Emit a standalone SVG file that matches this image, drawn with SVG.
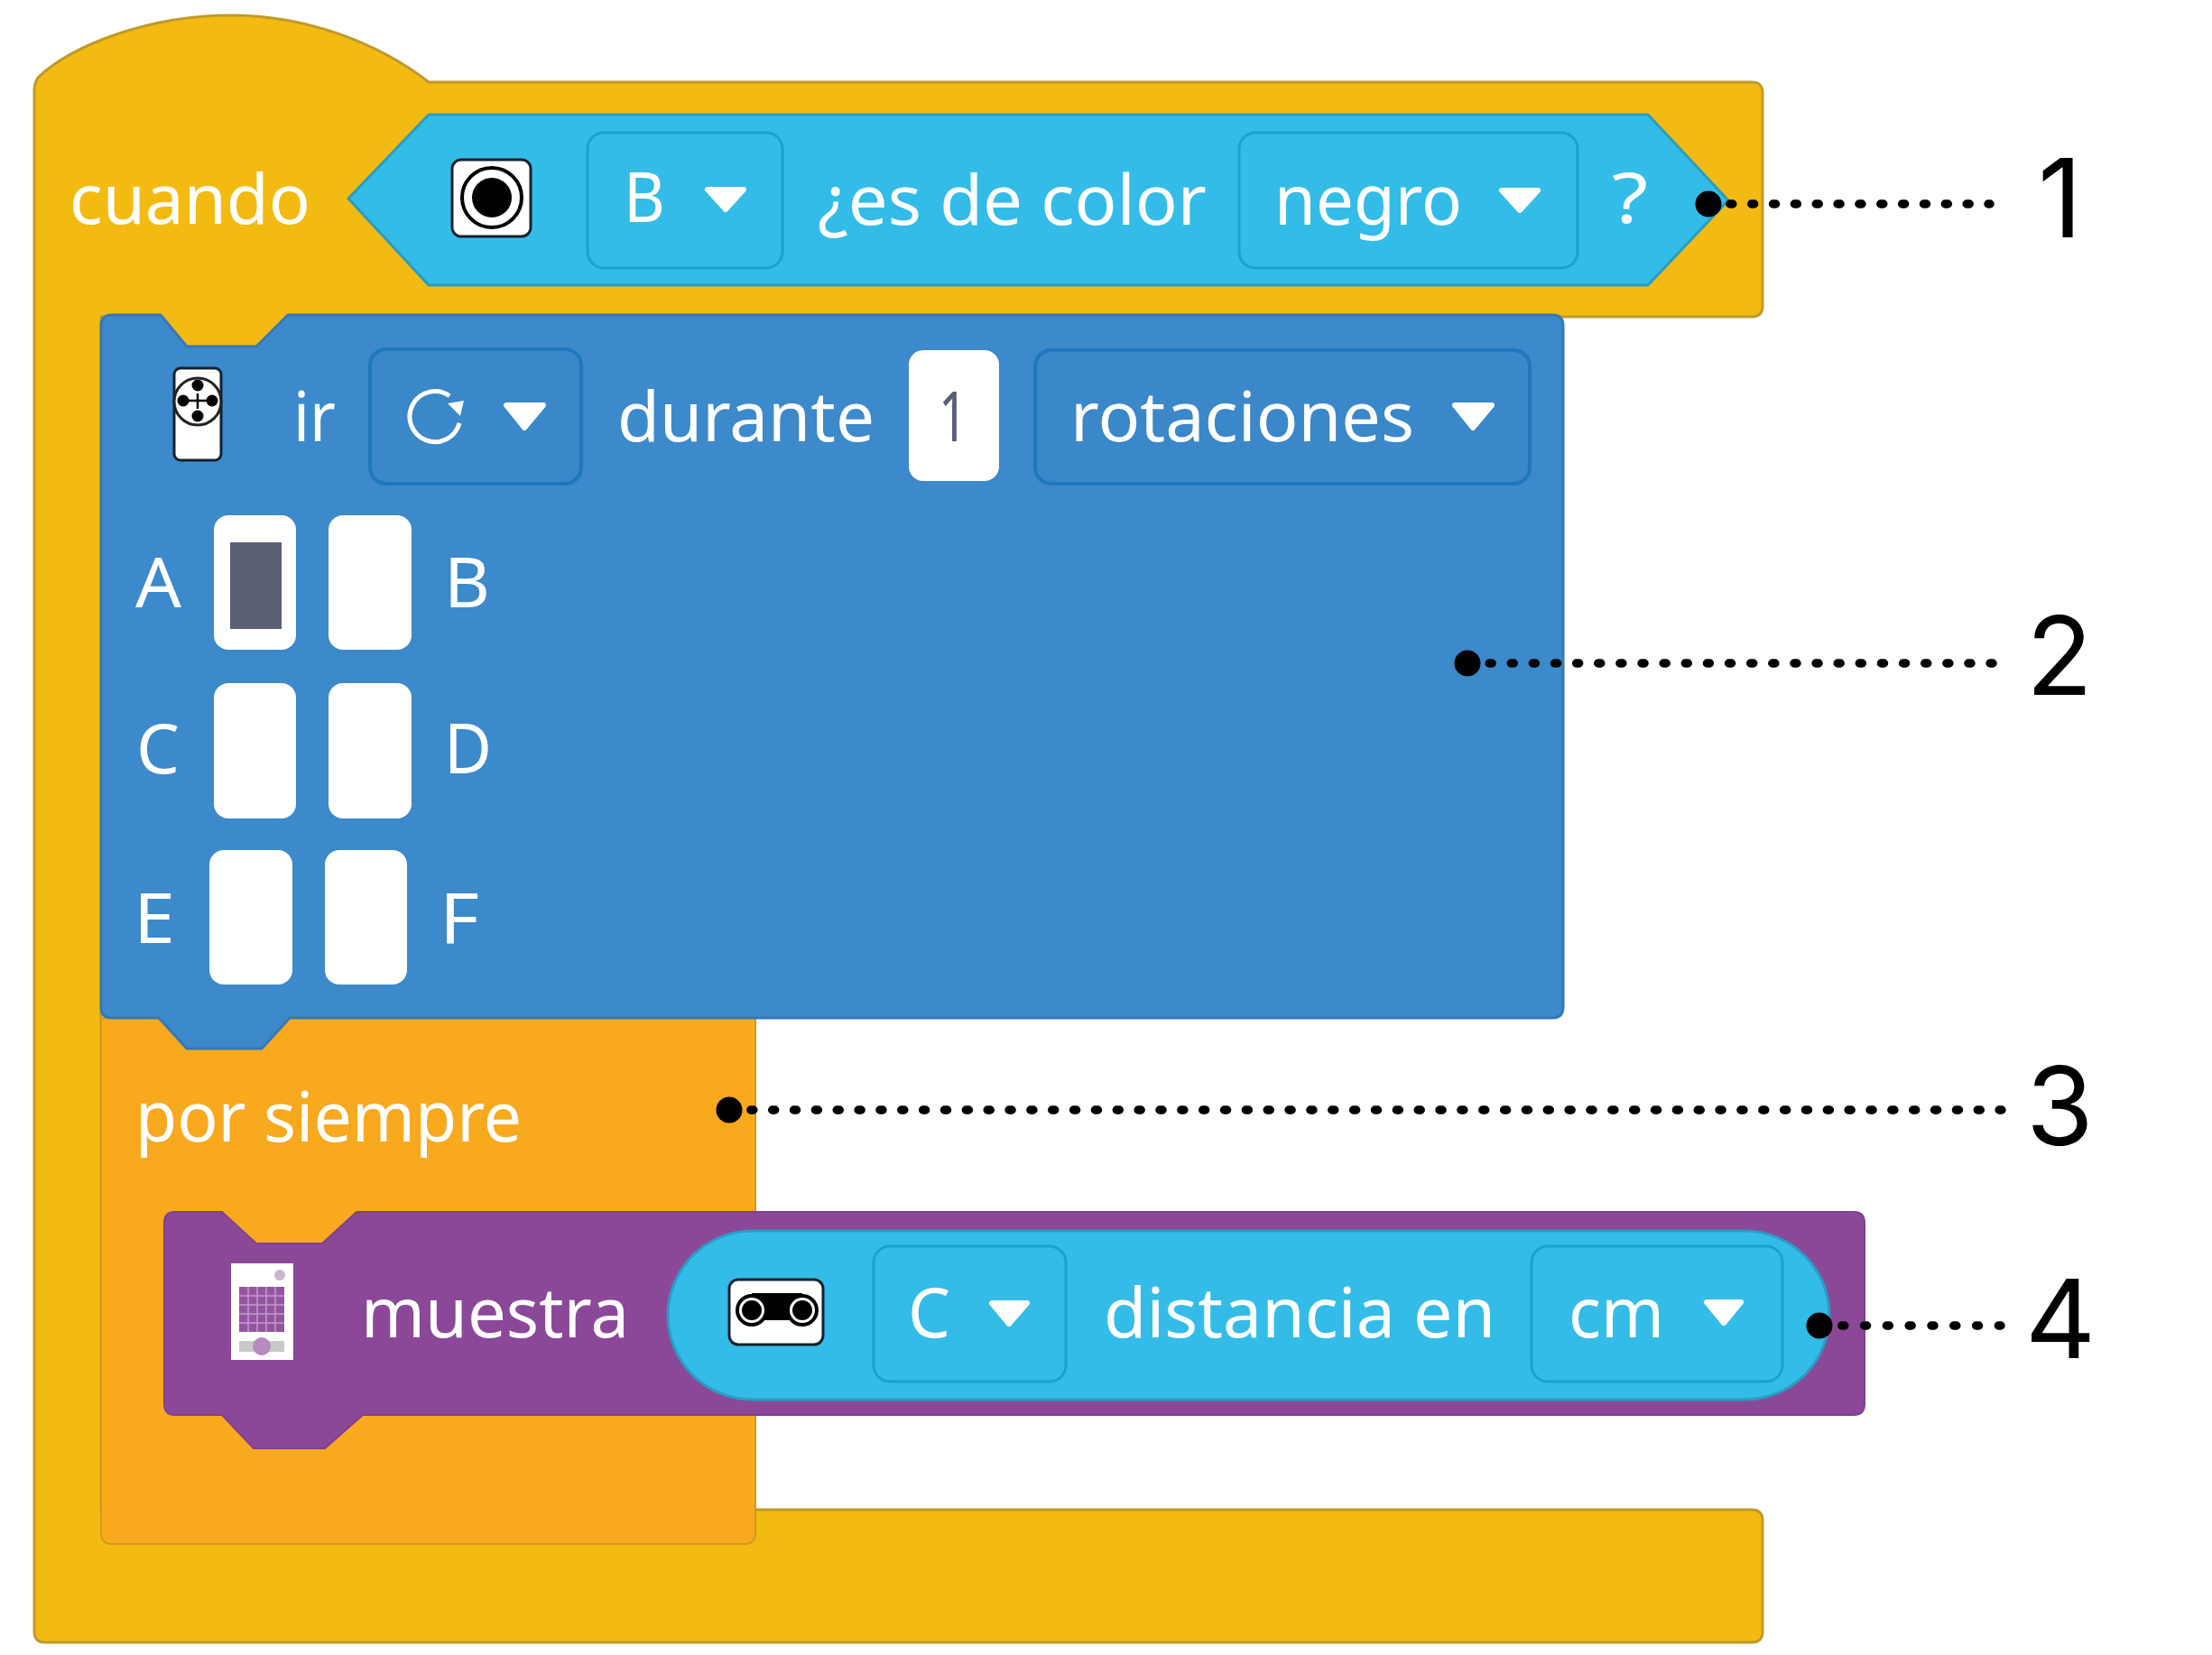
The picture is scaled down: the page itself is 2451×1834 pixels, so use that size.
<svg xmlns="http://www.w3.org/2000/svg" width="2451" height="1834" viewBox="0 0 2451 1834">
<style>
text{font-family:"Noto Sans","DejaVu Sans",sans-serif;font-size:76px;fill:#fff}
.lab{font-family:Inter,"Noto Sans",sans-serif;font-size:121px;fill:#000}
.tri{fill:#fff;stroke:#fff;stroke-width:6;stroke-linejoin:round}
.dd{stroke-width:3;rx:18px}
.ddc{fill:#33bce8;stroke:#18a3cb}
.ddb{fill:#3a87c9;stroke:#1f78bd;stroke-width:4}
.port{fill:#fff}
.ico{fill:#fff;stroke:#12222e;stroke-width:3}
.lead{stroke:#000;stroke-width:9.5;stroke-linecap:round;fill:none}
</style>
<defs>
<marker id="dot" markerUnits="userSpaceOnUse" markerWidth="32" markerHeight="32" refX="16" refY="16"><circle cx="16" cy="16" r="14.5" fill="#000"/></marker>
</defs>
<g id="cuando">
<path d="M38 100Q38 93 42 86C80 50 165 17 256 17C340 17 420 48 475 91H1941Q1953 91 1953 103V339Q1953 351 1941 351H319L284 384H207L178 351H112V1673H1941Q1953 1673 1953 1685V1808Q1953 1820 1941 1820H50Q38 1820 38 1808Z" fill="#f3bb12" stroke="#c09a2a" stroke-width="3"/>
<text x="77" y="248" textLength="267" lengthAdjust="spacingAndGlyphs">cuando</text>
</g>
<g id="sensor-color">
<path d="M475 127H1826L1915 222L1826 316H475L386 220Z" fill="#33bce8" stroke="#2b9dbd" stroke-width="3" stroke-linejoin="round"/>
<rect x="501" y="177" width="87" height="85" rx="10" class="ico"/>
<circle cx="545" cy="219" r="33" fill="none" stroke="#000" stroke-width="4"/>
<circle cx="545" cy="219" r="22" fill="#000"/>
<rect x="651" y="147" width="216" height="150" class="dd ddc"/>
<text x="691" y="246" textLength="46" lengthAdjust="spacingAndGlyphs">B</text>
<path d="M784 210H824L804 232Z" class="tri"/>
<text x="906" y="249" textLength="431" lengthAdjust="spacingAndGlyphs">¿es de color</text>
<rect x="1373" y="147" width="375" height="150" class="dd ddc"/>
<text x="1412" y="249" textLength="208" lengthAdjust="spacingAndGlyphs">negro</text>
<path d="M1664 211H1704L1684 233Z" class="tri"/>
<text x="1786" y="247" textLength="40" lengthAdjust="spacingAndGlyphs">?</text>
</g>
<g id="por-siempre">
<path d="M112 1128H837V1699Q837 1711 825 1711H124Q112 1711 112 1699Z" fill="#f9a91e" stroke="#d9951e" stroke-width="2"/>
<text x="150" y="1265" textLength="428" lengthAdjust="spacingAndGlyphs">por siempre</text>
</g>
<g id="motor">
<path d="M124 349H178L207 384H284L319 349H1720Q1732 349 1732 361V1116Q1732 1128 1720 1128H321L290 1162H207L176 1128H124Q112 1128 112 1116V361Q112 349 124 349Z" fill="#3c89cb" stroke="#3579b4" stroke-width="3"/>
<rect x="193" y="408" width="52" height="102" rx="7" class="ico"/>
<circle cx="219" cy="445" r="26" fill="#fff" stroke="#222" stroke-width="3"/>
<circle cx="219" cy="427" r="6.5"/><circle cx="219" cy="461" r="6.5"/><circle cx="203" cy="444" r="6.5"/><circle cx="235" cy="444" r="6.5"/>
<path d="M209 444H229M219 436V453" stroke="#000" stroke-width="2.5"/>
<text x="325" y="489" textLength="47" lengthAdjust="spacingAndGlyphs">ir</text>
<rect x="410" y="387" width="234" height="149" class="dd ddb"/>
<path d="M505 446A28 28 0 1 0 505 478" fill="none" stroke="#fff" stroke-width="5" transform="rotate(-20 481 462)"/>
<path d="M496 447L514 444L510 461Z" fill="#fff"/>
<path d="M561 449H602L581 474Z" class="tri"/>
<text x="684" y="489" textLength="285" lengthAdjust="spacingAndGlyphs">durante</text>
<rect x="1007" y="388" width="100" height="145" rx="16" class="port"/>
<text x="1040" y="489" textLength="32" lengthAdjust="spacingAndGlyphs" style="fill:#575e75">1</text>
<rect x="1147" y="388" width="548" height="148" class="dd ddb"/>
<text x="1186" y="489" textLength="381" lengthAdjust="spacingAndGlyphs">rotaciones</text>
<path d="M1612 449H1653L1632 474Z" class="tri"/>
<rect x="237" y="571" width="91" height="149" rx="16" class="port"/>
<rect x="255" y="601" width="57" height="96" fill="#5a5f75"/>
<rect x="364" y="571" width="92" height="149" rx="16" class="port"/>
<rect x="237" y="757" width="91" height="150" rx="16" class="port"/>
<rect x="364" y="757" width="92" height="150" rx="16" class="port"/>
<rect x="232" y="942" width="92" height="149" rx="16" class="port"/>
<rect x="360" y="942" width="91" height="149" rx="16" class="port"/>
<text x="150" y="673" textLength="51" lengthAdjust="spacingAndGlyphs">A</text>
<text x="492" y="673" textLength="51" lengthAdjust="spacingAndGlyphs">B</text>
<text x="151" y="857" textLength="48" lengthAdjust="spacingAndGlyphs">C</text>
<text x="492" y="857" textLength="53" lengthAdjust="spacingAndGlyphs">D</text>
<text x="148" y="1045" textLength="46" lengthAdjust="spacingAndGlyphs">E</text>
<text x="487" y="1045" textLength="44" lengthAdjust="spacingAndGlyphs">F</text>
</g>
<g id="muestra">
<path d="M194 1343H246L284 1378H357L395 1343H2054Q2066 1343 2066 1355V1556Q2066 1568 2054 1568H402L360 1605H281L246 1568H194Q182 1568 182 1556V1355Q182 1343 194 1343Z" fill="#8b4898" stroke="#7f4090" stroke-width="2"/>
<rect x="256" y="1400" width="69" height="107" fill="#fff"/>
<rect x="265" y="1426" width="50" height="50" fill="#94559f"/>
<path d="M265 1436H315M265 1446H315M265 1456H315M265 1466H315M275 1426V1476M285 1426V1476M295 1426V1476M305 1426V1476" stroke="#c39acb" stroke-width="1.5"/>
<rect x="265" y="1486" width="50" height="12" fill="#c9c9c9"/>
<circle cx="290" cy="1492" r="10" fill="#b78ac0"/>
<circle cx="310" cy="1413" r="6" fill="#c9b5cd"/>
<text x="400" y="1482" textLength="297" lengthAdjust="spacingAndGlyphs">muestra</text>
</g>
<g id="sensor-distancia">
<rect x="740" y="1364" width="1287" height="187" rx="93.5" fill="#33bce8" stroke="#2a9cc4" stroke-width="3"/>
<rect x="808" y="1418" width="104" height="72" rx="10" class="ico"/>
<path d="M833 1433H889V1463H833Z" fill="#000"/>
<circle cx="833" cy="1452" r="18" fill="#000"/>
<circle cx="889" cy="1452" r="18" fill="#000"/>
<circle cx="833" cy="1452" r="14" fill="#fff"/>
<circle cx="889" cy="1452" r="14" fill="#fff"/>
<circle cx="833" cy="1452" r="11" fill="#000"/>
<circle cx="889" cy="1452" r="11" fill="#000"/>
<rect x="968" y="1381" width="213" height="150" class="dd ddc"/>
<text x="1006" y="1482" textLength="47" lengthAdjust="spacingAndGlyphs">C</text>
<path d="M1099 1444H1138L1118 1467Z" class="tri"/>
<text x="1223" y="1482" textLength="434" lengthAdjust="spacingAndGlyphs">distancia en</text>
<rect x="1697" y="1381" width="278" height="150" class="dd ddc"/>
<text x="1738" y="1482" textLength="106" lengthAdjust="spacingAndGlyphs">cm</text>
<path d="M1891 1443H1929L1910 1466Z" class="tri"/>
</g>
<g id="connectors">
<path d="M1893 226H2205" class="lead" stroke-dasharray="3 20.85" style="marker-start:url(#dot)"/>
<path d="M1626 735H2208" class="lead" stroke-dasharray="3 21.13" style="marker-start:url(#dot)"/>
<path d="M808 1230H2218" class="lead" stroke-dasharray="3 20.85" style="marker-start:url(#dot)"/>
<path d="M2016 1469H2217" class="lead" stroke-dasharray="3 21.8" style="marker-start:url(#dot)"/>
</g>
<g id="labels">
<text class="lab" x="2258" y="263">1</text>
<text class="lab" x="2245" y="770">2</text>
<text class="lab" x="2245" y="1269">3</text>
<text class="lab" x="2244" y="1505">4</text>
</g>
</svg>
